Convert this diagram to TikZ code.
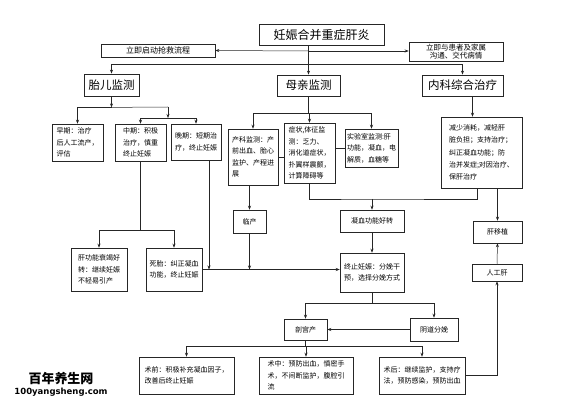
\documentclass[tikz,border=0pt]{standalone}
\usepackage{fontspec}
\setmainfont{Noto Sans CJK SC}
\newfontfamily\urlfont{DejaVu Sans}
\usepackage{tikz}
\usetikzlibrary{arrows.meta,calc}

\begin{document}
\begin{tikzpicture}[
  x=1pt, y=-1pt, >={Stealth[length=4pt,width=3pt]},
  bx/.style={draw=black!85, line width=0.5pt, align=left, inner sep=2pt, font=\fontsize{7}{11.5}\selectfont},
  hd/.style={draw=black!85, line width=0.8pt, align=center, inner sep=2pt, font=\fontsize{11.5}{13}\selectfont},
  arr/.style={->, line width=0.5pt, black!85},
  ln/.style={line width=0.5pt, black!85}
]
\useasboundingbox (0,0) rectangle (571,406);
% ---------------- top: title and first actions
\node[hd, minimum width=125, minimum height=21, font=\fontsize{12}{14}\selectfont] (ttl) at (321.5,34.5) {妊娠合并重症肝炎};
\node[bx, align=center, minimum width=114, minimum height=13, font=\fontsize{8}{9}\selectfont] (start) at (158,50.5) {立即启动抢救流程};
\node[bx, align=center, minimum width=94, minimum height=18, font=\fontsize{7.5}{8}\selectfont] (talk) at (456,52) {立即与患者及家属\\沟通、交代病情};
% ---------------- row of headings
\node[hd, minimum width=55, minimum height=22] (fetal) at (111.5,85) {胎儿监测};
\node[hd, minimum width=63, minimum height=21] (mom) at (308.5,85.5) {母亲监测};
\node[hd, minimum width=81, minimum height=21] (med) at (462.5,85.5) {内科综合治疗};
% ---------------- fetal branch
\node[bx, minimum width=51, minimum height=37] (early) at (77.5,142.5) {早期：治疗\\后人工流产，\\评估};
\node[bx, minimum width=51, minimum height=37] (mid) at (140.5,142.5) {中期：积极\\治疗，慎重\\终止妊娠};
\node[bx, minimum width=50, minimum height=36] (late) at (196,142) {晚期：短期治\\疗，终止妊娠};
\node[bx, minimum width=56, minimum height=43] (liver) at (99,269.5) {肝功能衰竭好\\转：继续妊娠\\不轻易引产};
\node[bx, minimum width=56, minimum height=43] (dead) at (174,269.5) {死胎：纠正凝血\\功能，终止妊娠};
% ---------------- maternal branch
\node[bx, minimum width=50, minimum height=56] (obs) at (253,157) {产科监测：产\\前出血、胎心\\监护、产程进\\展};
\node[bx, minimum width=51, minimum height=60] (sym) at (309.5,153) {症状,体征监\\测：乏力、\\消化道症状，\\扑翼样震颤，\\计算障碍等};
\node[bx, minimum width=51, minimum height=38] (lab) at (371.5,148) {实验室监测:肝\\功能，凝血，电\\解质，血糖等};
\node[bx, minimum width=33, minimum height=23] (labor) at (249.5,221.5) {临产};
\node[bx, align=center, minimum width=64, minimum height=22] (coag) at (372,221) {凝血功能好转};
\node[bx, minimum width=64, minimum height=39] (term) at (372,272.5) {终止妊娠：分娩干\\预，选择分娩方式};
% ---------------- medical branch
\node[bx, minimum width=81, minimum height=71, font=\fontsize{7}{12.2}\selectfont] (treat) at (481.5,152.5) {减少消耗，减轻肝\\脏负担；支持治疗；\\纠正凝血功能；防\\治并发症;对因治疗、\\保肝治疗};
\node[bx, align=center, minimum width=49, minimum height=22] (trans) at (497.5,232) {肝移植};
\node[bx, align=center, minimum width=50, minimum height=17] (alv) at (497,272.5) {人工肝};
% ---------------- delivery
\node[bx, align=center, minimum width=43, minimum height=21] (cs) at (305.5,329.5) {剖宫产};
\node[bx, align=center, minimum width=48, minimum height=23] (vag) at (434,329.5) {阴道分娩};
\node[bx, minimum width=95, minimum height=37] (pre) at (186.5,375.5) {术前：积极补充凝血因子，\\改善后终止妊娠};
\node[bx, minimum width=94, minimum height=37] (intra) at (306,375.5) {术中：预防出血，慎密手\\术，不间断监护，腹腔引\\流};
\node[bx, minimum width=86, minimum height=37] (post) at (422,375.5) {术后：继续监护，支持疗\\法，预防感染，预防出血};
% ---------------- watermark
\node[font=\bfseries\fontsize{13}{13}\selectfont] (wm) at (61,379) {百年养生网};
\node[font=\urlfont\bfseries\fontsize{8.5}{9}\selectfont] (wmurl) at (61,392) {100yangsheng.com};
% ---------------- junctions
\coordinate (tj) at (309,51);
\coordinate (bj) at (309,64);
\coordinate (fj) at ($(fetal.south)+(0,11)$);
\coordinate (fk) at (168,107);
\coordinate (fm) at (168,118);
\coordinate (mo) at ($(mom.south)+(0,17)$);
\coordinate (mk) at ($(mid.south)+(0,69)$);
\coordinate (cj) at (372,199);
\coordinate (tk) at ($(term.south)+(0,11)$);
\coordinate (ck) at ($(cs.south)+(0,6)$);
% ---------------- edges
\draw[arr] (mom.north |- ttl.south) -- (mom.north);
\draw[arr] (tj) -- (start.east);
\draw[arr] (tj) -- (talk.west |- tj);
\draw[arr] (bj) -| (fetal.north);
\draw[arr] (bj) -| (med.north);
\draw[arr] (fetal.south) -- (fj);
\draw[arr] (fj) -| (early.north);
\draw[ln] (fj) -- (fk);
\draw[arr] (fk) -- (fm);
\draw[arr] (fm) -| (mid.north);
\draw[arr] (fm) -| (late.north);
\draw[ln] (mom.south) -- (mo);
\draw[arr] (mo) -| (obs.north);
\draw[arr] (mo) -| (sym.north);
\draw[arr] (mo) -| (lab.north);
\draw[ln] (obs.east) -- (obs.east -| sym.west);
\draw[ln] (lab.west -| sym.east) -- (lab.west);
\draw[arr] (obs.south -| labor.north) -- (labor.north);
\draw[ln] (mid.south) -- (mk);
\draw[arr] (mk) -| (liver.north);
\draw[arr] (mk) -| (dead.north);
\draw[arr] (dead.east) -- (dead.east -| term.west);
\draw[arr] ([xshift=13pt]late.south) -- ([xshift=13pt]late.south |- dead.east);
\draw[arr] (labor.south) -- (labor.south |- dead.east);
\draw[ln] (sym.south) |- (cj) -| ([xshift=-4pt]treat.south);
\draw[arr] (cj) -- (coag.north);
\draw[arr] ([xshift=10pt]med.south) -- ([xshift=10pt]med.south |- treat.north);
\draw[arr] (treat.south -| trans.north) -- (trans.north);
\draw[arr] (alv.north) -- (trans.south);
\draw[arr] (coag.south) -- (term.north);
\draw[ln] (term.south) -- (tk);
\draw[arr] (tk) -| (cs.north);
\draw[arr] (tk) -| (vag.north);
\draw[arr] (vag.west) -- (vag.west -| cs.east);
\draw[ln] (cs.south) -- (ck);
\draw[arr] (ck) -| (pre.north);
\draw[arr] (ck) -| (intra.north);
\draw[arr] (ck) -| (post.north);
\draw[arr] (post.east) -| (alv.south);
\end{tikzpicture}
\end{document}
